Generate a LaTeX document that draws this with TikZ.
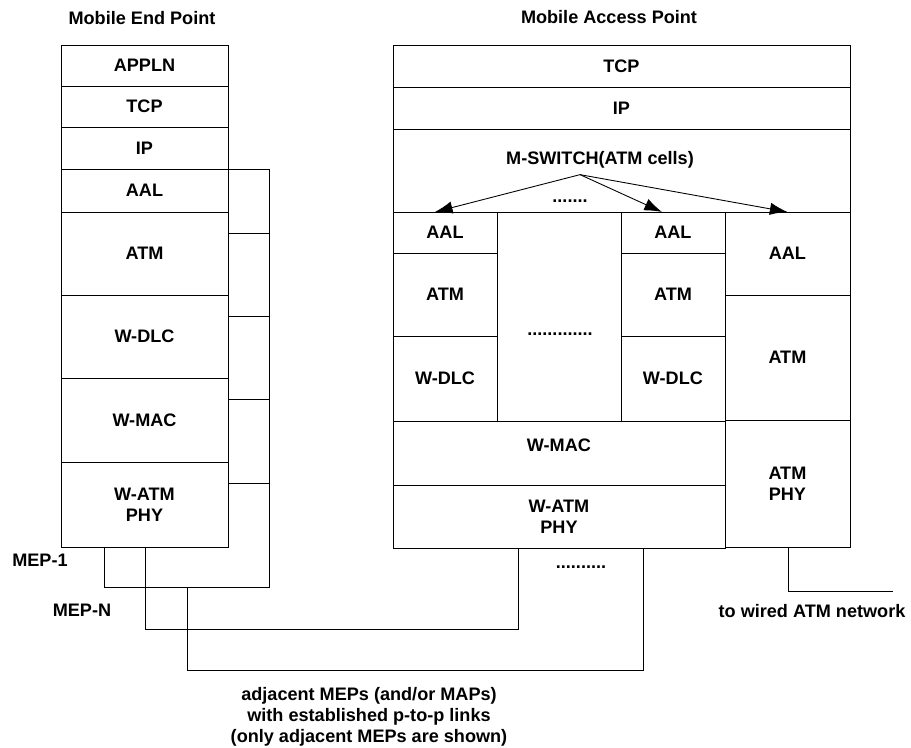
\documentclass[tikz,border=0pt]{standalone}
\usepackage{fontspec}
\setmainfont{Liberation Sans}
\usetikzlibrary{positioning,arrows.meta}

\begin{document}
\begin{tikzpicture}[
  x=0.02cm, y=-0.02cm,
  font=\fontsize{10.3}{12}\selectfont\bfseries,
  node distance=0pt,
  layer/.style={draw, rectangle, outer sep=0pt, inner sep=0pt, align=center},
  mep/.style={layer, minimum width=3.34cm},
  peer/.style={layer, minimum width=0.82cm},
  map/.style={layer, minimum width=9.14cm},
  sub/.style={layer, minimum width=2.08cm},
  wired/.style={layer, minimum width=2.5cm},
  link/.style={line width=0.5pt},
  arr/.style={-{Latex[length=10pt,width=7pt]}, line width=0.5pt}
]
\useasboundingbox (0,0) rectangle (911,747);

% Mobile End Point
\node (meptitle) at (142,18) {Mobile End Point};
\node[mep, minimum height=0.82cm, anchor=north west] (appln) at (61,45) {APPLN};
\node[mep, minimum height=0.82cm, below=of appln] (mtcp) {TCP};
\node[mep, minimum height=0.84cm, below=of mtcp] (mip) {IP};
\node[mep, minimum height=0.86cm, below=of mip] (maal) {AAL};
\node[mep, minimum height=1.66cm, below=of maal] (matm) {ATM};
\node[mep, minimum height=1.66cm, below=of matm] (mdlc) {W-DLC};
\node[mep, minimum height=1.68cm, below=of mdlc] (mmac) {W-MAC};
\node[mep, minimum height=1.70cm, below=of mmac] (mphy) {W-ATM\\PHY};

% peer boxes
\node[peer, minimum height=1.28cm, anchor=north west] (peer1) at (maal.north east) {};
\node[peer, minimum height=1.66cm, below=of peer1] (peer2) {};
\node[peer, minimum height=1.66cm, below=of peer2] (peer3) {};
\node[peer, minimum height=1.68cm, below=of peer3] (peer4) {};

% Mobile Access Point
\node (maptitle) at (609,17) {Mobile Access Point};
\node[map, minimum height=0.84cm, anchor=north west] (tcp) at (393,45) {TCP};
\node[map, minimum height=0.84cm, below=of tcp] (ip) {IP};
\node[map, minimum height=1.66cm, below=of ip] (switch) {};
\node (swlbl) at (600,160) {M-SWITCH(ATM cells)};
\node (swdots) at (570,201) {.......};

\node[sub, minimum height=0.82cm, anchor=north west] (aal1) at (switch.south west) {AAL};
\node[sub, minimum height=1.66cm, below=of aal1] (atm1) {ATM};
\node[sub, minimum height=1.70cm, below=of atm1] (dlc1) {W-DLC};
\node[layer, minimum width=2.48cm, minimum height=4.18cm, anchor=north west] (mid) at (aal1.north east) {};
\node (middots) at (560,334) {.............};
\node[sub, minimum height=0.82cm, anchor=north west] (aal2) at (mid.north east) {AAL};
\node[sub, minimum height=1.66cm, below=of aal2] (atm2) {ATM};
\node[sub, minimum height=1.70cm, below=of atm2] (dlc2) {W-DLC};
\node[wired, minimum height=1.66cm, anchor=north west] (raal) at (aal2.north east) {AAL};
\node[wired, minimum height=2.50cm, below=of raal] (ratm) {ATM};
\node[wired, minimum height=2.54cm, below=of ratm] (rphy) {ATM\\PHY};
\node[layer, minimum width=6.64cm, minimum height=1.28cm, text depth=9pt, anchor=north west] (wmac) at (dlc1.south west) {W-MAC};
\node[layer, minimum width=6.64cm, minimum height=1.26cm, below=of wmac] (wphy) {W-ATM\\PHY};
\node (phydots) at (581,567) {..........};

\draw[arr] (swlbl.south -| 580,0) -- ([xshift=-0.2cm]aal1.north);
\draw[arr] (swlbl.south -| 580,0) -- ([xshift=-0.22cm]aal2.north);
\draw[arr] (swlbl.south -| 580,0) -- (raal.north);

% links
\node (mep1) at (40,560) {MEP-1};
\node (mepn) at (82,610) {MEP-N};
\draw[link] ([xshift=0.86cm]mphy.south west) -- ++(0,41) coordinate (c1) -| (peer4.south east);
\draw[link] ([xshift=1.68cm]mphy.south west) -- ++(0,83) -| ([xshift=2.5cm]wphy.south west);
\draw[link] ([xshift=1.66cm]c1) -- ++(0,83) -| ([xshift=5cm]wphy.south west);
\coordinate (wiredend) at (893,591);
\draw[link] ([xshift=1.28cm]rphy.south west) |- (wiredend);
\node (wiredlbl) at (812,611) {to wired ATM network};
\node[align=center] (note) at (369,717) {adjacent MEPs (and/or MAPs)\\with established p-to-p links\\(only adjacent MEPs are shown)};
\end{tikzpicture}
\end{document}
